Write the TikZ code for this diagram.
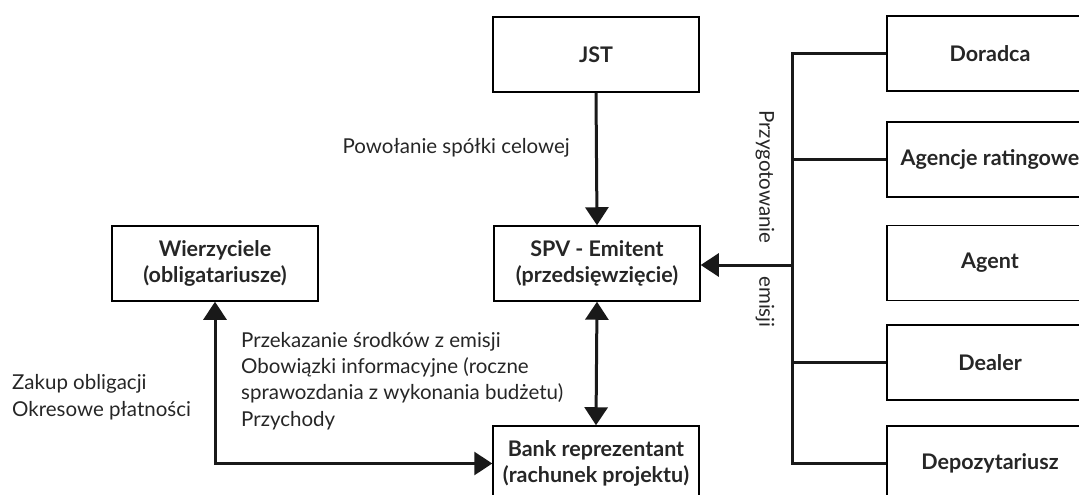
\documentclass[tikz,border=0pt]{standalone}
\usepackage{fontspec}
\setmainfont{Lato}
\usetikzlibrary{arrows.meta}
\begin{document}
\begin{tikzpicture}[x=1pt,y=-1pt,
  box/.style={draw, line width=1.5pt, minimum width=206pt, minimum height=75pt,
    inner sep=0pt, font=\fontsize{21.5}{26.5}\selectfont\bfseries, align=center, text=black!85},
  conn/.style={line width=3pt, draw=black!90},
  tip/.style={-{Triangle[width=23pt,length=18pt]}},
  tips/.style={{Triangle[width=23pt,length=18pt]}-{Triangle[width=23pt,length=18pt]}},
  lbl/.style={font=\fontsize{20.5}{26.3}\selectfont, text=black!85, inner sep=0pt, align=left}]
\useasboundingbox (0,0) rectangle (1079,495);
\clip (0,0) rectangle (1079,495);

% main chain
\node[box] (jst)  at (596,54.5)  {JST};
\node[box] (spv)  at (597,263.5) {SPV - Emitent\\(przedsięwzięcie)};
\node[box] (wie)  at (215,263.5) {Wierzyciele\\(obligatariusze)};
\node[box] (bank) at (596,463.5) {Bank reprezentant\\(rachunek projektu)};

% participants of the issue
\node[box] (dor) at (990,53.5)  {Doradca};
\node[box] (agr) at (990,159.5) {Agencje ratingowe};
\node[box] (agt) at (990,263)   {Agent};
\node[box] (dea) at (990,362.5) {Dealer};
\node[box] (dep) at (990,463.5) {Depozytariusz};

% connectors
\draw[conn,tip] (jst.south) -- (spv.north);
\draw[conn,tips] (spv.south) -- (bank.north);
\draw[conn,tips] (wie.south) |- (bank.west);

\coordinate (bus) at (792,265);
\draw[conn] (dor.west) -| (bus) |- (dep.west);
\draw[conn] (agr.west) -- (agr.west -| bus);
\draw[conn] (dea.west) -- (dea.west -| bus);
\draw[conn,tip] (bus) -- (bus -| spv.east);

% labels (multi-line nodes: base = baseline of the last line)
\node[lbl, anchor=base east] (l1) at (570,153) {Powołanie spółki celowej};
\node[lbl, anchor=base west] (l2) at (241,426) {Przekazanie środków z emisji\\Obowiązki informacyjne (roczne\\sprawozdania z wykonania budżetu)\\Przychody};
\node[lbl, anchor=base west] (l3) at (12,416) {Zakup obligacji\\Okresowe płatności};
\node[lbl, rotate=-90] (l4) at (765,177) {Przygotowanie};
\node[lbl, rotate=-90] (l5) at (765,302) {emisji};
\end{tikzpicture}
\end{document}
